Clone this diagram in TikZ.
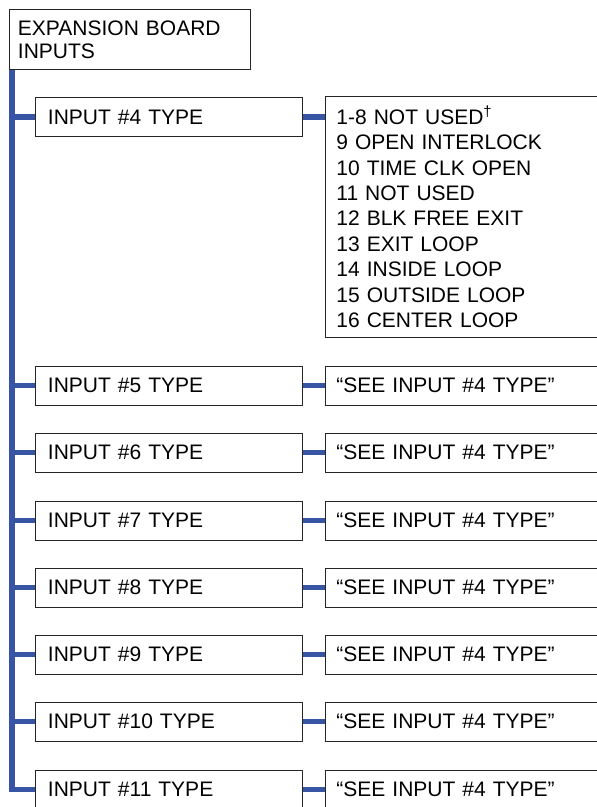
\documentclass[tikz,border=0pt]{standalone}
\usepackage{fontspec}
\setmainfont{Liberation Sans}
\usepackage{tikz}
\usetikzlibrary{positioning,calc}
\definecolor{busblue}{RGB}{56,84,165}

\tikzset{
  menubox/.style={draw=black!85, line width=0.9pt, anchor=north west,
    align=left, inner ysep=0pt, font=\fontsize{21}{25.4}\selectfont},
  typebox/.style={menubox, inner xsep=12.5pt, text width=242pt, minimum height=39pt},
  valuebox/.style={menubox, inner xsep=11pt, text width=278pt, minimum height=39pt},
  bus/.style={busblue, line width=5.5pt}
}

\begin{document}
\begin{tikzpicture}[x=1pt,y=-1pt]
    \useasboundingbox (0,0) rectangle (597,807);
    \clip (0,0) rectangle (597,807);
    % top of the menu
    \node[menubox, inner xsep=8.5pt, text width=224pt, minimum height=60pt,
      font=\fontsize{21}{23}\selectfont] (board) at (9,9) {EXPANSION BOARD\\INPUTS};
    \coordinate (trunk) at ([xshift=3pt]board.south west);
    % input 4 with its list of values
    \node[typebox] (in4) at (35,97) {INPUT \#4 TYPE};
    \node[valuebox, minimum height=241pt] (opt4) at (325,96)
      {1-8 NOT USED\textsuperscript{†}\\9 OPEN INTERLOCK\\10 TIME CLK OPEN\\11 NOT USED\\
       12 BLK FREE EXIT\\13 EXIT LOOP\\14 INSIDE LOOP\\15 OUTSIDE LOOP\\16 CENTER LOOP};
    \draw[bus] (trunk |- in4.west) -- (in4.west);
    \draw[bus] (in4.east) -- (opt4.west |- in4.east);
    % inputs 5 to 11
    \foreach \i/\y in {5/385,6/452,7/520,8/587,9/654,10/721,11/789} {
      \node[typebox] (in\i) at (35,\y-19.5) {INPUT \#\i\ TYPE};
      \node[valuebox] (see\i) at (325,\y-19.5) {“SEE INPUT \#4 TYPE”};
      \draw[bus] (in\i.east) -- (see\i.west);
    }
    \foreach \i in {5,...,10}
      \draw[bus] (trunk |- in\i.west) -- (in\i.west);
    \draw[bus] (trunk) |- (in11.west);
\end{tikzpicture}
\end{document}
